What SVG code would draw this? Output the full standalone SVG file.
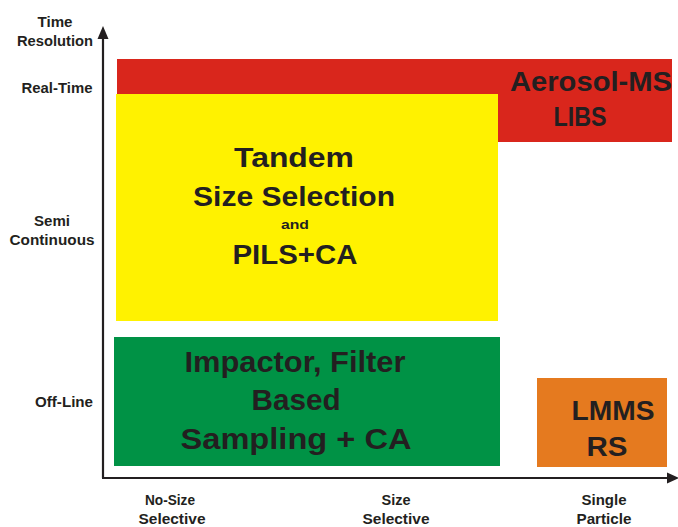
<svg xmlns="http://www.w3.org/2000/svg" width="678" height="527" viewBox="0 0 678 527">
  <style>
    .lbl { font-family: "Liberation Sans", Arial, sans-serif; font-weight: bold; fill: #231f20; text-anchor: middle; }
    .ax { font-size: 14px; }
    .axis { stroke: #231f20; stroke-width: 2.2; fill: none; }
    .head { fill: #231f20; }
  </style>

  <rect width="678" height="527" fill="#ffffff"/>

  <!-- axes with arrowheads -->
  <g id="connectors">
    <path class="axis" d="M103,478 V34"/>
    <path class="axis" d="M102,478 H672"/>
    <path class="head" d="M97.5,39 L103,26 L108.5,39 z"/>
    <path class="head" d="M667,472.5 L679,478 L667,483.5 z"/>
  </g>

  <!-- time resolution axis labels -->
  <g id="y-labels">
    <text class="lbl ax" x="55" y="27" textLength="35" lengthAdjust="spacingAndGlyphs">Time</text>
    <text class="lbl ax" x="55" y="46" textLength="76" lengthAdjust="spacingAndGlyphs">Resolution</text>
    <text class="lbl ax" x="57" y="93" textLength="71" lengthAdjust="spacingAndGlyphs">Real-Time</text>
    <text class="lbl ax" x="52" y="226" textLength="36" lengthAdjust="spacingAndGlyphs">Semi</text>
    <text class="lbl ax" x="52" y="245" textLength="85" lengthAdjust="spacingAndGlyphs">Continuous</text>
    <text class="lbl ax" x="64" y="407" textLength="58" lengthAdjust="spacingAndGlyphs">Off-Line</text>
  </g>

  <!-- size selectivity axis labels -->
  <g id="x-labels">
    <text class="lbl ax" x="170" y="505" textLength="50" lengthAdjust="spacingAndGlyphs">No-Size</text>
    <text class="lbl ax" x="172" y="524" textLength="67" lengthAdjust="spacingAndGlyphs">Selective</text>
    <text class="lbl ax" x="396" y="505" textLength="29" lengthAdjust="spacingAndGlyphs">Size</text>
    <text class="lbl ax" x="396" y="524" textLength="67" lengthAdjust="spacingAndGlyphs">Selective</text>
    <text class="lbl ax" x="604" y="505" textLength="45" lengthAdjust="spacingAndGlyphs">Single</text>
    <text class="lbl ax" x="604" y="524" textLength="55" lengthAdjust="spacingAndGlyphs">Particle</text>
  </g>

  <!-- technique regions -->
  <g id="realtime">
    <path d="M117,59 H672 V142 H498 V94 H117 z" fill="#d9261c"/>
    <text class="lbl" font-size="28" x="591" y="91" textLength="162" lengthAdjust="spacingAndGlyphs">Aerosol-MS</text>
    <text class="lbl" font-size="28" x="580" y="126" textLength="53" lengthAdjust="spacingAndGlyphs">LIBS</text>
  </g>
  <g id="tandem">
    <rect x="116" y="94" width="382" height="227" fill="#fff200"/>
    <text class="lbl" font-size="27" x="294" y="167" textLength="120" lengthAdjust="spacingAndGlyphs">Tandem</text>
    <text class="lbl" font-size="27" x="294" y="206" textLength="202" lengthAdjust="spacingAndGlyphs">Size Selection</text>
    <text class="lbl" font-size="13" x="295" y="229" textLength="28" lengthAdjust="spacingAndGlyphs">and</text>
    <text class="lbl" font-size="27" x="295" y="264" textLength="125" lengthAdjust="spacingAndGlyphs">PILS+CA</text>
  </g>
  <g id="offline">
    <rect x="114" y="337" width="386" height="129" fill="#009245"/>
    <text class="lbl" font-size="29" x="295" y="372" textLength="221" lengthAdjust="spacingAndGlyphs">Impactor, Filter</text>
    <text class="lbl" font-size="29" x="296" y="410" textLength="89" lengthAdjust="spacingAndGlyphs">Based</text>
    <text class="lbl" font-size="29" x="296" y="449" textLength="231" lengthAdjust="spacingAndGlyphs">Sampling + CA</text>
  </g>
  <g id="single">
    <rect x="537" y="378" width="130" height="89" fill="#e57a1f"/>
    <text class="lbl" font-size="27" x="613" y="420" textLength="83" lengthAdjust="spacingAndGlyphs">LMMS</text>
    <text class="lbl" font-size="27" x="607" y="456" textLength="41" lengthAdjust="spacingAndGlyphs">RS</text>
  </g>
</svg>
